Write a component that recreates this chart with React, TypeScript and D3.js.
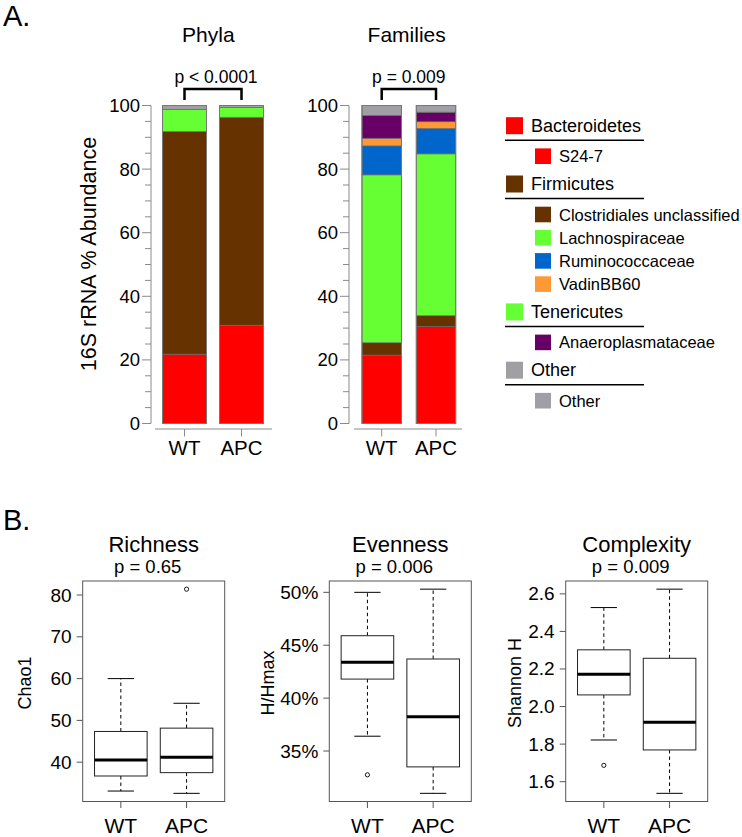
import React from 'react';
import * as d3 from 'd3';

// ---------- DATA ----------
const groups = ['WT', 'APC'];

const phylaNames = ['Bacteroidetes', 'Firmicutes', 'Tenericutes', 'Other'];
const phylaWT = [21.8, 70.0, 7.0, 1.2];
const phylaAPC = [30.9, 65.4, 3.1, 0.6];

const familyNames = ['S24-7', 'Clostridiales unclassified', 'Lachnospiraceae', 'Ruminococcaceae', 'VadinBB60', 'Anaeroplasmataceae', 'Other'];
const familyPhylum = [0, 1, 1, 1, 1, 2, 3];
const familiesWT = [21.5, 3.9, 52.8, 9.1, 2.4, 7.2, 3.1];
const familiesAPC = [30.5, 3.4, 50.9, 8.0, 2.1, 3.0, 2.1];

const phylaP = 'p < 0.0001';
const familiesP = 'p = 0.009';
const abundanceTicks = [0, 20, 40, 60, 80, 100];

// box stats: [lower whisker, Q1, median, Q3, upper whisker]
const richnessStats = [[33.1, 36.7, 40.55, 47.35, 60.0], [32.55, 37.5, 41.2, 48.15, 54.1]];
const richnessOutliers = [[], [81.4]];
const richnessTicks = [40, 50, 60, 70, 80];

const evennessStats = [[36.4, 41.8, 43.4, 45.9, 50.0], [31.0, 33.5, 38.25, 43.7, 50.3]];
const evennessOutliers = [[32.75], []];
const evennessTicks = [35, 40, 45, 50];

const complexityStats = [[1.822, 2.062, 2.172, 2.302, 2.527], [1.538, 1.769, 1.916, 2.257, 2.625]];
const complexityOutliers = [[1.687], []];
const complexityTicks = [1.6, 1.8, 2.0, 2.2, 2.4, 2.6];

// ---------- STYLE ----------
const phylaColors = ['#FF0000', '#663300', '#66FF33', '#A0A0A4'];
const familyColors = ['#FF0000', '#663300', '#66FF33', '#0066CC', '#FF9933', '#660066', '#A0A0A4'];
const FONT = '"Liberation Sans", Arial, Helvetica, sans-serif';
const AXIS_GREY = '#8a8a8a';

const W = 742;
const H = 837;

type StackProps = {
  title: string; p: string; titleX: number; values: number[][]; names: string[]; colors: string[];
  axisX: number; centers: [number, number]; barW: number; lineX: [number, number];
};

const yA = d3.scaleLinear().domain([0, 100]).range([423.5, 105.5]);

function StackPanel({ title, p, titleX, values, names, colors, axisX, centers, barW, lineX }: StackProps) {
  const x = d3.scalePoint<string>().domain(groups).range(centers);
  const rows = groups.map((g, gi) => {
    const r: any = { group: g };
    names.forEach((n, i) => (r[n] = values[gi][i]));
    return r;
  });
  const series = d3.stack<any>().keys(names)(rows);
  const minor = d3.range(0, 101, 5);
  const c0 = x(groups[0])!;
  const c1 = x(groups[1])!;
  return (
    <g>
      <text x={titleX} y={42.3} textAnchor="middle" fontSize={21} fontFamily={FONT}>{title}</text>
      <text x={(c0 + c1) / 2 + (title === 'Phyla' ? 3 : 0)} y={82.7} textAnchor="middle" fontSize={17.5} fontFamily={FONT}>{p}</text>
      <path d={`M${c0},100 V89 H${c1} V100`} fill="none" stroke="#000" strokeWidth={2.5} />
      {/* y axis */}
      <line x1={axisX} x2={axisX} y1={yA(100)} y2={yA(0)} stroke={AXIS_GREY} strokeWidth={1} />
      {minor.map((t) => (
        <line key={t} x1={axisX - (abundanceTicks.includes(t) ? 9 : 6)} x2={axisX} y1={yA(t)} y2={yA(t)} stroke={AXIS_GREY} strokeWidth={1} />
      ))}
      {abundanceTicks.map((t) => (
        <text key={t} x={axisX - 11} y={yA(t)} textAnchor="end" dominantBaseline="central" fontSize={18.5} fontFamily={FONT}>{t}</text>
      ))}
      {/* bars */}
      {series.map((s, si) =>
        s.map((d, di) => (
          <rect key={`${si}-${di}`} x={x(groups[di])! - barW / 2} width={barW} y={yA(d[1])} height={yA(d[0]) - yA(d[1])}
            fill={colors[si]} stroke="#6a6a6a" strokeWidth={0.7} />
        ))
      )}
      {groups.map((g) => (
        <rect key={g} x={x(g)! - barW / 2} width={barW} y={yA(100)} height={yA(0) - yA(100)} fill="none" stroke="#777" strokeWidth={1} />
      ))}
      {/* x axis */}
      <line x1={lineX[0]} x2={lineX[1]} y1={429} y2={429} stroke={AXIS_GREY} strokeWidth={1} />
      {groups.map((g) => (
        <g key={g}>
          <line x1={x(g)!} x2={x(g)!} y1={429} y2={436.5} stroke={AXIS_GREY} strokeWidth={1} />
          <text x={x(g)!} y={455} textAnchor="middle" fontSize={20.5} fontFamily={FONT}>{g}</text>
        </g>
      ))}
    </g>
  );
}

function Legend() {
  const items: { kind: 'h' | 's' | 'u'; label?: string; color?: string; y: number }[] = [];
  let y = 125.7;
  phylaNames.forEach((ph, pi) => {
    items.push({ kind: 'h', label: ph, color: phylaColors[pi], y });
    items.push({ kind: 'u', y: y + 14.5 });
    let sy = y + 30.5;
    const subs = familyNames.map((n, i) => i).filter((i) => familyPhylum[i] === pi);
    subs.forEach((i, k) => {
      items.push({ kind: 's', label: familyNames[i], color: familyColors[i], y: sy });
      if (k < subs.length - 1) sy += 23.2;
    });
    y = sy + 27.8;
  });
  return (
    <g fontFamily={FONT}>
      {items.map((it, i) => {
        if (it.kind === 'u') return <line key={i} x1={505} x2={644} y1={it.y} y2={it.y} stroke="#000" strokeWidth={1.5} />;
        if (it.kind === 'h')
          return (
            <g key={i}>
              <rect x={506} y={it.y - 8.5} width={17} height={17} fill={it.color} />
              <text x={531} y={it.y} dominantBaseline="central" fontSize={18}>{it.label}</text>
            </g>
          );
        return (
          <g key={i}>
            <rect x={535} y={it.y - 7.8} width={16} height={15.6} fill={it.color} />
            <text x={559} y={it.y} dominantBaseline="central" fontSize={16.5}>{it.label}</text>
          </g>
        );
      })}
    </g>
  );
}

type BoxProps = {
  title: string; p: string; ylab: string; stats: number[][]; outliers: number[][]; ticks: number[];
  fmt: (v: number) => string; left: number; ylabX: number;
};

function BoxPanel({ title, p, ylab, stats, outliers, ticks, fmt, left, ylabX }: BoxProps) {
  const top = 581;
  const bottom = 801.5;
  const width = 142;
  const all = stats.flat().concat(outliers.flat());
  const lo = d3.min(all)!;
  const hi = d3.max(all)!;
  const ext = (hi - lo) * 0.04;
  const y = d3.scaleLinear().domain([lo - ext, hi + ext]).range([bottom, top]);
  const x = d3.scaleLinear().domain([0.42, 2.58]).range([left, left + width]);
  const bw = x(0.8) - x(0);
  const sw = bw / 2;
  const cx = (left + left + width) / 2;
  return (
    <g fontFamily={FONT}>
      <text x={cx} y={552.3} textAnchor="middle" fontSize={22}>{title}</text>
      <text x={cx - 6} y={573.3} textAnchor="middle" fontSize={18.5}>{p}</text>
      <text transform={`translate(${ylabX},683) rotate(-90)`} textAnchor="middle" dominantBaseline="central" fontSize={18}>{ylab}</text>
      <rect x={left} y={top} width={width} height={bottom - top} fill="none" stroke="#555" strokeWidth={1} />
      {ticks.map((t) => (
        <g key={t}>
          <line x1={left - 6} x2={left} y1={y(t)} y2={y(t)} stroke="#555" strokeWidth={1} />
          <text x={left - 11} y={y(t)} textAnchor="end" dominantBaseline="central" fontSize={19}>{fmt(t)}</text>
        </g>
      ))}
      {groups.map((g, gi) => {
        const px = x(gi + 1);
        const [wl, q1, md, q3, wh] = stats[gi];
        return (
          <g key={g}>
            <line x1={px} x2={px} y1={bottom} y2={bottom + 6.5} stroke="#555" strokeWidth={1} />
            <text x={px} y={833.3} textAnchor="middle" fontSize={21}>{g}</text>
            <line x1={px} x2={px} y1={y(q3)} y2={y(wh)} stroke="#000" strokeWidth={1} strokeDasharray="3.5,3" />
            <line x1={px} x2={px} y1={y(q1)} y2={y(wl)} stroke="#000" strokeWidth={1} strokeDasharray="3.5,3" />
            <line x1={px - sw / 2} x2={px + sw / 2} y1={y(wh)} y2={y(wh)} stroke="#000" strokeWidth={1} />
            <line x1={px - sw / 2} x2={px + sw / 2} y1={y(wl)} y2={y(wl)} stroke="#000" strokeWidth={1} />
            <rect x={px - bw / 2} y={y(q3)} width={bw} height={y(q1) - y(q3)} fill="#fff" stroke="#222" strokeWidth={1} />
            <line x1={px - bw / 2} x2={px + bw / 2} y1={y(md)} y2={y(md)} stroke="#000" strokeWidth={3} />
            {outliers[gi].map((o, oi) => (
              <circle key={oi} cx={px} cy={y(o)} r={2.1} fill="none" stroke="#000" strokeWidth={0.9} />
            ))}
          </g>
        );
      })}
    </g>
  );
}

export default function App() {
  return (
    <svg width={W} height={H} viewBox={`0 0 ${W} ${H}`} style={{ position: 'absolute', left: 0, top: 0, background: '#fff' }}>
      <rect width={W} height={H} fill="#fff" />
      <text x={3} y={26} fontSize={29} fontFamily={FONT}>A.</text>
      <text x={3} y={530} fontSize={29} fontFamily={FONT}>B.</text>
      <text transform="translate(89.3,254) rotate(-90)" textAnchor="middle" dominantBaseline="central" fontSize={21.5} fontFamily={FONT}>16S rRNA % Abundance</text>
      <StackPanel title="Phyla" p={phylaP} titleX={208.3} values={[phylaWT, phylaAPC]} names={phylaNames} colors={phylaColors}
        axisX={151} centers={[184.5, 241.5]} barW={44} lineX={[155, 272]} />
      <StackPanel title="Families" p={familiesP} titleX={406.7} values={[familiesWT, familiesAPC]} names={familyNames} colors={familyColors}
        axisX={349} centers={[381.7, 436]} barW={39.5} lineX={[354, 462]} />
      <Legend />
      <BoxPanel title="Richness" p="p = 0.65" ylab="Chao1" stats={richnessStats} outliers={richnessOutliers} ticks={richnessTicks}
        fmt={(v) => String(v)} left={82.7} ylabX={25} />
      <BoxPanel title="Evenness" p="p = 0.006" ylab="H/Hmax" stats={evennessStats} outliers={evennessOutliers} ticks={evennessTicks}
        fmt={(v) => `${v}%`} left={329.3} ylabX={268.3} />
      <BoxPanel title="Complexity" p="p = 0.009" ylab="Shannon H" stats={complexityStats} outliers={complexityOutliers} ticks={complexityTicks}
        fmt={(v) => v.toFixed(1)} left={565.7} ylabX={515} />
    </svg>
  );
}
